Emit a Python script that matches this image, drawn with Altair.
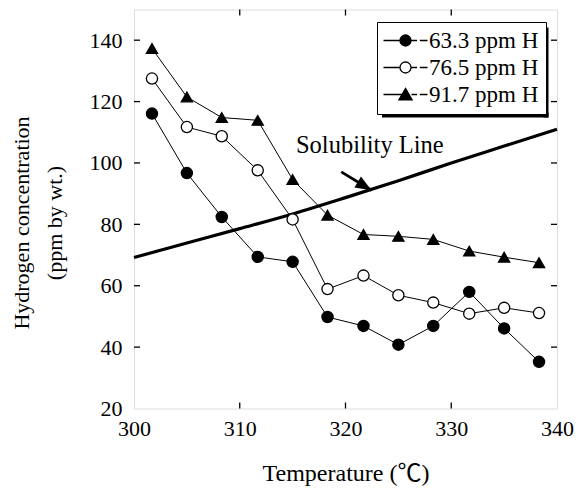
import altair as alt
import pandas as pd

# ---------------- data ----------------
series_names = ["63.3 ppm H", "76.5 ppm H", "91.7 ppm H"]
temps = [301.7, 305.0, 308.3, 311.7, 315.0, 318.3, 321.7, 325.0, 328.3, 331.7, 335.0, 338.3]
h_633 = [116.1, 96.7, 82.4, 69.4, 67.8, 49.8, 46.9, 40.8, 46.9, 58.0, 46.1, 35.2]
h_765 = [127.5, 111.7, 108.7, 97.6, 81.6, 58.9, 63.3, 56.9, 54.5, 50.9, 52.8, 51.1]
h_917 = [137.3, 121.5, 114.8, 113.9, 94.6, 83.0, 76.7, 76.1, 75.1, 71.3, 69.3, 67.5]

sol_temps = [300, 305, 310, 315, 320, 325, 330, 335, 340]
sol_conc = [69.2, 73.9, 78.6, 83.4, 88.7, 94.2, 100.0, 105.5, 111.0]

label_text = ["Solubility Line"]
label_temp = [322.3]
label_conc = [103.2]

arrow_start_temp = [319.6]
arrow_start_conc = [97.1]
arrow_tip_temp = [322.45]
arrow_tip_conc = [91.1]

x_ticks = [300, 310, 320, 330, 340]
y_ticks = [20, 40, 60, 80, 100, 120, 140]
x_inner = [310, 320, 330]
y_inner = [40, 60, 80, 100, 120, 140]

# ---------------- tables ----------------
rows = []
for name, vals in zip(series_names, [h_633, h_765, h_917]):
    for t, v in zip(temps, vals):
        rows.append({"temp": t, "conc": v, "series": name})
df = pd.DataFrame(rows)
sol_df = pd.DataFrame({"temp": sol_temps, "conc": sol_conc})
lab_df = pd.DataFrame({"temp": label_temp, "conc": label_conc, "text": label_text})
arr_df = pd.DataFrame({"t0": arrow_start_temp, "c0": arrow_start_conc,
                       "t1": arrow_tip_temp, "c1": arrow_tip_conc})
xt_df = pd.DataFrame({"v": x_inner})
yt_df = pd.DataFrame({"v": y_inner})

W, H = 423, 399
TK = 6
FONT = "Liberation Serif"
xs = alt.Scale(domain=[300, 340], nice=False, zero=False)
ys = alt.Scale(domain=[20, 150], nice=False, zero=False)

x_lab = alt.Axis(values=x_ticks, ticks=False, domain=False, grid=False, labelFlush=False,
                 labelFont=FONT, labelFontSize=22, labelColor="black", labelPadding=10,
                 title="Temperature (℃)", titleFont="Liberation Serif, Noto Sans CJK JP",
                 titleFontSize=24, titleFontWeight="normal",
                 titleColor="black", titleBaseline="alphabetic", titleY=72)
y_lab = alt.Axis(values=y_ticks, ticks=False, domain=False, grid=False, labelFlush=False,
                 labelFont=FONT, labelFontSize=22, labelColor="black", labelPadding=12,
                 title=["Hydrogen concentration", "(ppm by wt.)"], titleFont=FONT, titleFontSize=22,
                 titleFontWeight="normal", titleColor="black", titleBaseline="alphabetic",
                 titleX=-106, titleY=213, titleLineHeight=33)

lines = alt.Chart(df).mark_line(color="black", strokeWidth=1).encode(
    x=alt.X("temp:Q", scale=xs, axis=x_lab),
    y=alt.Y("conc:Q", scale=ys, axis=y_lab),
    detail="series:N",
)

points = alt.Chart(df).mark_point(filled=True, stroke="black", strokeWidth=1.3, opacity=1).encode(
    x=alt.X("temp:Q", scale=xs, axis=None),
    y=alt.Y("conc:Q", scale=ys, axis=None),
    shape=alt.Shape("series:N", scale=alt.Scale(domain=series_names,
                                                 range=["circle", "circle", "triangle-up"]), legend=None),
    fill=alt.Fill("series:N", scale=alt.Scale(domain=series_names,
                                               range=["black", "white", "black"]), legend=None),
    size=alt.Size("series:N", scale=alt.Scale(domain=series_names, range=[125, 125, 160]), legend=None),
)

sol = alt.Chart(sol_df).mark_line(color="black", strokeWidth=3.2, interpolate="monotone").encode(
    x=alt.X("temp:Q", scale=xs, axis=None),
    y=alt.Y("conc:Q", scale=ys, axis=None),
)

shaft = alt.Chart(arr_df).mark_rule(color="black", strokeWidth=2.8).encode(
    x=alt.X("t0:Q", scale=xs, axis=None),
    y=alt.Y("c0:Q", scale=ys, axis=None),
    x2="t1:Q", y2="c1:Q",
)

head = alt.Chart(arr_df).mark_point(
    shape="M0,0L-2,-0.8L-2,0.8Z", size=256, angle=31, filled=True, color="black", opacity=1
).encode(
    x=alt.X("t1:Q", scale=xs, axis=None),
    y=alt.Y("c1:Q", scale=ys, axis=None),
)

text = alt.Chart(lab_df).mark_text(font=FONT, fontSize=24.5, color="black", align="center",
                                   baseline="alphabetic").encode(
    x=alt.X("temp:Q", scale=xs, axis=None),
    y=alt.Y("conc:Q", scale=ys, axis=None),
    text="text:N",
)

# inward tick marks on all four sides, placed by the scales
tick_style = dict(color="black", strokeWidth=1.3)
t_top = alt.Chart(xt_df).mark_rule(**tick_style).encode(
    x=alt.X("v:Q", scale=xs, axis=None), y=alt.value(0), y2=alt.value(TK))
t_bot = alt.Chart(xt_df).mark_rule(**tick_style).encode(
    x=alt.X("v:Q", scale=xs, axis=None), y=alt.value(H), y2=alt.value(H - TK))
t_left = alt.Chart(yt_df).mark_rule(**tick_style).encode(
    y=alt.Y("v:Q", scale=ys, axis=None), x=alt.value(0), x2=alt.value(TK))
t_right = alt.Chart(yt_df).mark_rule(**tick_style).encode(
    y=alt.Y("v:Q", scale=ys, axis=None), x=alt.value(W), x2=alt.value(W - TK))

# legend drop shadow: two thick bands just outside the legend frame (pixel offsets)
sh_right = alt.Chart(lab_df).mark_rule(color="black", strokeWidth=5, strokeCap="butt").encode(
    x=alt.value(412), y=alt.value(18), y2=alt.value(108))
sh_bottom = alt.Chart(lab_df).mark_rule(color="black", strokeWidth=5, strokeCap="butt").encode(
    x=alt.value(248), x2=alt.value(414.5), y=alt.value(105.5))

leg_paths = [
    "M-4,0L-1,0M1,0L2.1,0M2.6,0L4,0M1,0A1,1,0,1,1,-1,0A1,1,0,1,1,1,0Z",
    "M-4,0L-1,0M1,0L2.1,0M2.6,0L4,0M1,0A1,1,0,1,1,-1,0A1,1,0,1,1,1,0Z",
    "M-4,0L-0.6,0M1.1,0L2.1,0M2.6,0L4,0M0,-1.1L1.2,0.95L-1.2,0.95Z",
]
leg = alt.Legend(orient="none", legendX=243, legendY=12.5, title=None,
                 labelFont=FONT, labelFontSize=23, labelColor="black",
                 symbolSize=121, symbolStrokeWidth=1.3, symbolStrokeColor="black",
                 symbolOffset=10, labelOffset=12, padding=7, rowPadding=3,
                 strokeColor="black", fillColor="white", cornerRadius=0)

legend_layer = alt.Chart(df).mark_point(filled=True, stroke="black", strokeWidth=1.3, opacity=1).encode(
    x=alt.X("temp:Q", scale=xs, axis=None),
    y=alt.Y("conc:Q", scale=ys, axis=None),
    shape=alt.Shape("series:N", scale=alt.Scale(domain=series_names, range=leg_paths), legend=leg),
    fill=alt.Fill("series:N", scale=alt.Scale(domain=series_names, range=["black", "white", "black"]),
                  legend=leg),
    stroke=alt.Stroke("series:N", scale=alt.Scale(domain=series_names, range=["black", "black", "black"]),
                      legend=leg),
).transform_filter("false")

chart = alt.layer(
    sh_right, sh_bottom, lines, sol, points, shaft, head, text, t_top, t_bot, t_left, t_right, legend_layer
).resolve_scale(
    shape="independent", fill="independent", size="independent", stroke="independent"
).resolve_axis(
    x="independent", y="independent"
).properties(
    width=W, height=H,
    autosize=alt.AutoSizeParams(type="none"),
    padding={"left": 126, "top": 1.5, "right": 22, "bottom": 78},
).configure_view(
    stroke="black", strokeWidth=1.5
).configure(
    font=FONT, background="white"
)

chart.save("out.html", embed_options={"renderer": "svg", "actions": False})
